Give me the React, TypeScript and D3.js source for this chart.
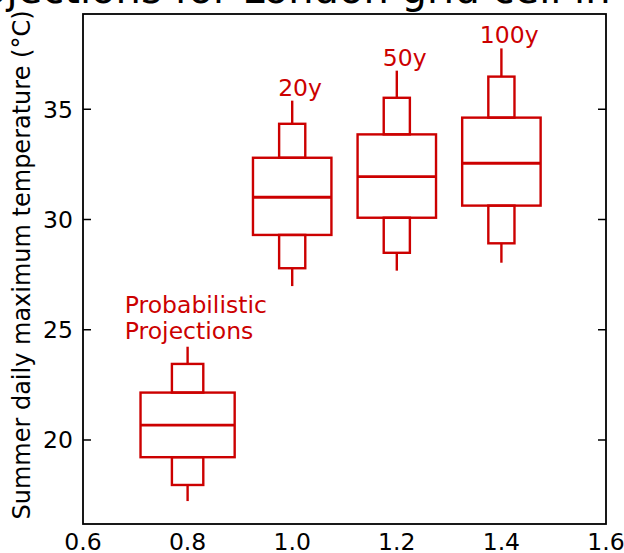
import React from 'react';
import * as d3 from 'd3';

// ---- data ----
const categories = ['Probabilistic Projections', '20y', '50y', '100y'];
const xPositions = [0.8, 1.0, 1.2, 1.4];
const whiskerLow = [17.23, 26.98, 27.68, 28.04];
const innerLow = [17.96, 27.79, 28.49, 28.92];
const boxLow = [19.22, 29.3, 30.08, 30.63];
const medians = [20.67, 31.01, 31.94, 32.55];
const boxHigh = [22.15, 32.8, 33.86, 34.62];
const innerHigh = [23.45, 34.34, 35.52, 36.48];
const whiskerHigh = [24.23, 35.39, 36.75, 37.76];
const xTicks = [0.6, 0.8, 1.0, 1.2, 1.4, 1.6];
const yTicks = [20, 25, 30, 35];
const titleText = 'Projections for London grid cell in 2080s';
const yLabel = 'Summer daily maximum temperature (\u00b0C)';

// ---- layout ----
const W = 624, H = 553;
const left = 83, right = 606, top = 14, bottom = 524;
const RED = '#cc0000';
const FONT = 'DejaVu Sans, sans-serif';

export default function App() {
  const x = d3.scaleLinear().domain([0.6, 1.6]).range([left, right]);
  const y = d3.scaleLinear().domain([16.19, 39.32]).range([bottom, top]);

  const boxes = categories.map((c, i) => {
    const isProb = i === 0;
    const hw = isProb ? 0.09 : 0.075;
    const iw = isProb ? 0.03 : 0.025;
    const cx = xPositions[i];
    return (
      <g key={c} stroke={RED} strokeWidth={2.4} fill="none">
        <rect x={x(cx - hw)} y={y(boxHigh[i])} width={x(cx + hw) - x(cx - hw)} height={y(boxLow[i]) - y(boxHigh[i])} />
        <line x1={x(cx - hw)} x2={x(cx + hw)} y1={y(medians[i])} y2={y(medians[i])} strokeWidth={2.8} />
        <rect x={x(cx - iw)} y={y(innerHigh[i])} width={x(cx + iw) - x(cx - iw)} height={y(boxHigh[i]) - y(innerHigh[i])} />
        <rect x={x(cx - iw)} y={y(boxLow[i])} width={x(cx + iw) - x(cx - iw)} height={y(innerLow[i]) - y(boxLow[i])} />
        <line x1={x(cx)} x2={x(cx)} y1={y(whiskerHigh[i])} y2={y(innerHigh[i])} />
        <line x1={x(cx)} x2={x(cx)} y1={y(innerLow[i])} y2={y(whiskerLow[i])} />
      </g>
    );
  });

  const labels = categories.map((c, i) => {
    if (i === 0) {
      const words = c.split(' ');
      return (
        <text key={c} x={x(0.68)} y={313} fill={RED} fontSize={23.5} fontFamily={FONT}>
          <tspan x={x(0.68)} dy={0}>{words[0]}</tspan>
          <tspan x={x(0.68)} dy={26}>{words[1]}</tspan>
        </text>
      );
    }
    return (
      <text key={c} x={x(xPositions[i] + 0.015)} y={y(whiskerHigh[i]) - 5} fill={RED} fontSize={23.5} fontFamily={FONT} textAnchor="middle">{c}</text>
    );
  });

  return (
    <svg width={W} height={H} style={{ position: 'absolute', left: 0, top: 0, background: '#fff' }}>
      <rect x={0} y={0} width={W} height={H} fill="#fff" />
      <text x={(left + right) / 2} y={3} fontSize={40} fontFamily={FONT} textAnchor="middle" fill="#000">{titleText}</text>
      {boxes}
      {labels}
      <rect x={left} y={top} width={right - left} height={bottom - top} fill="none" stroke="#000" strokeWidth={1.8} />
      {yTicks.map(t => (
        <g key={t}>
          <line x1={left} x2={left + 8} y1={y(t)} y2={y(t)} stroke="#000" strokeWidth={1.5} />
          <line x1={right - 8} x2={right} y1={y(t)} y2={y(t)} stroke="#000" strokeWidth={1.5} />
          <text x={left - 10} y={y(t)} dy="0.36em" textAnchor="end" fontSize={23.5} fontFamily={FONT}>{t}</text>
        </g>
      ))}
      {xTicks.map(t => (
        <text key={t} x={x(t)} y={550} textAnchor="middle" fontSize={23.5} fontFamily={FONT}>{t.toFixed(1)}</text>
      ))}
      <text transform={`translate(30,${(top + bottom) / 2 - 4}) rotate(-90)`} textAnchor="middle" fontSize={24} fontFamily={FONT}>{yLabel}</text>
    </svg>
  );
}
